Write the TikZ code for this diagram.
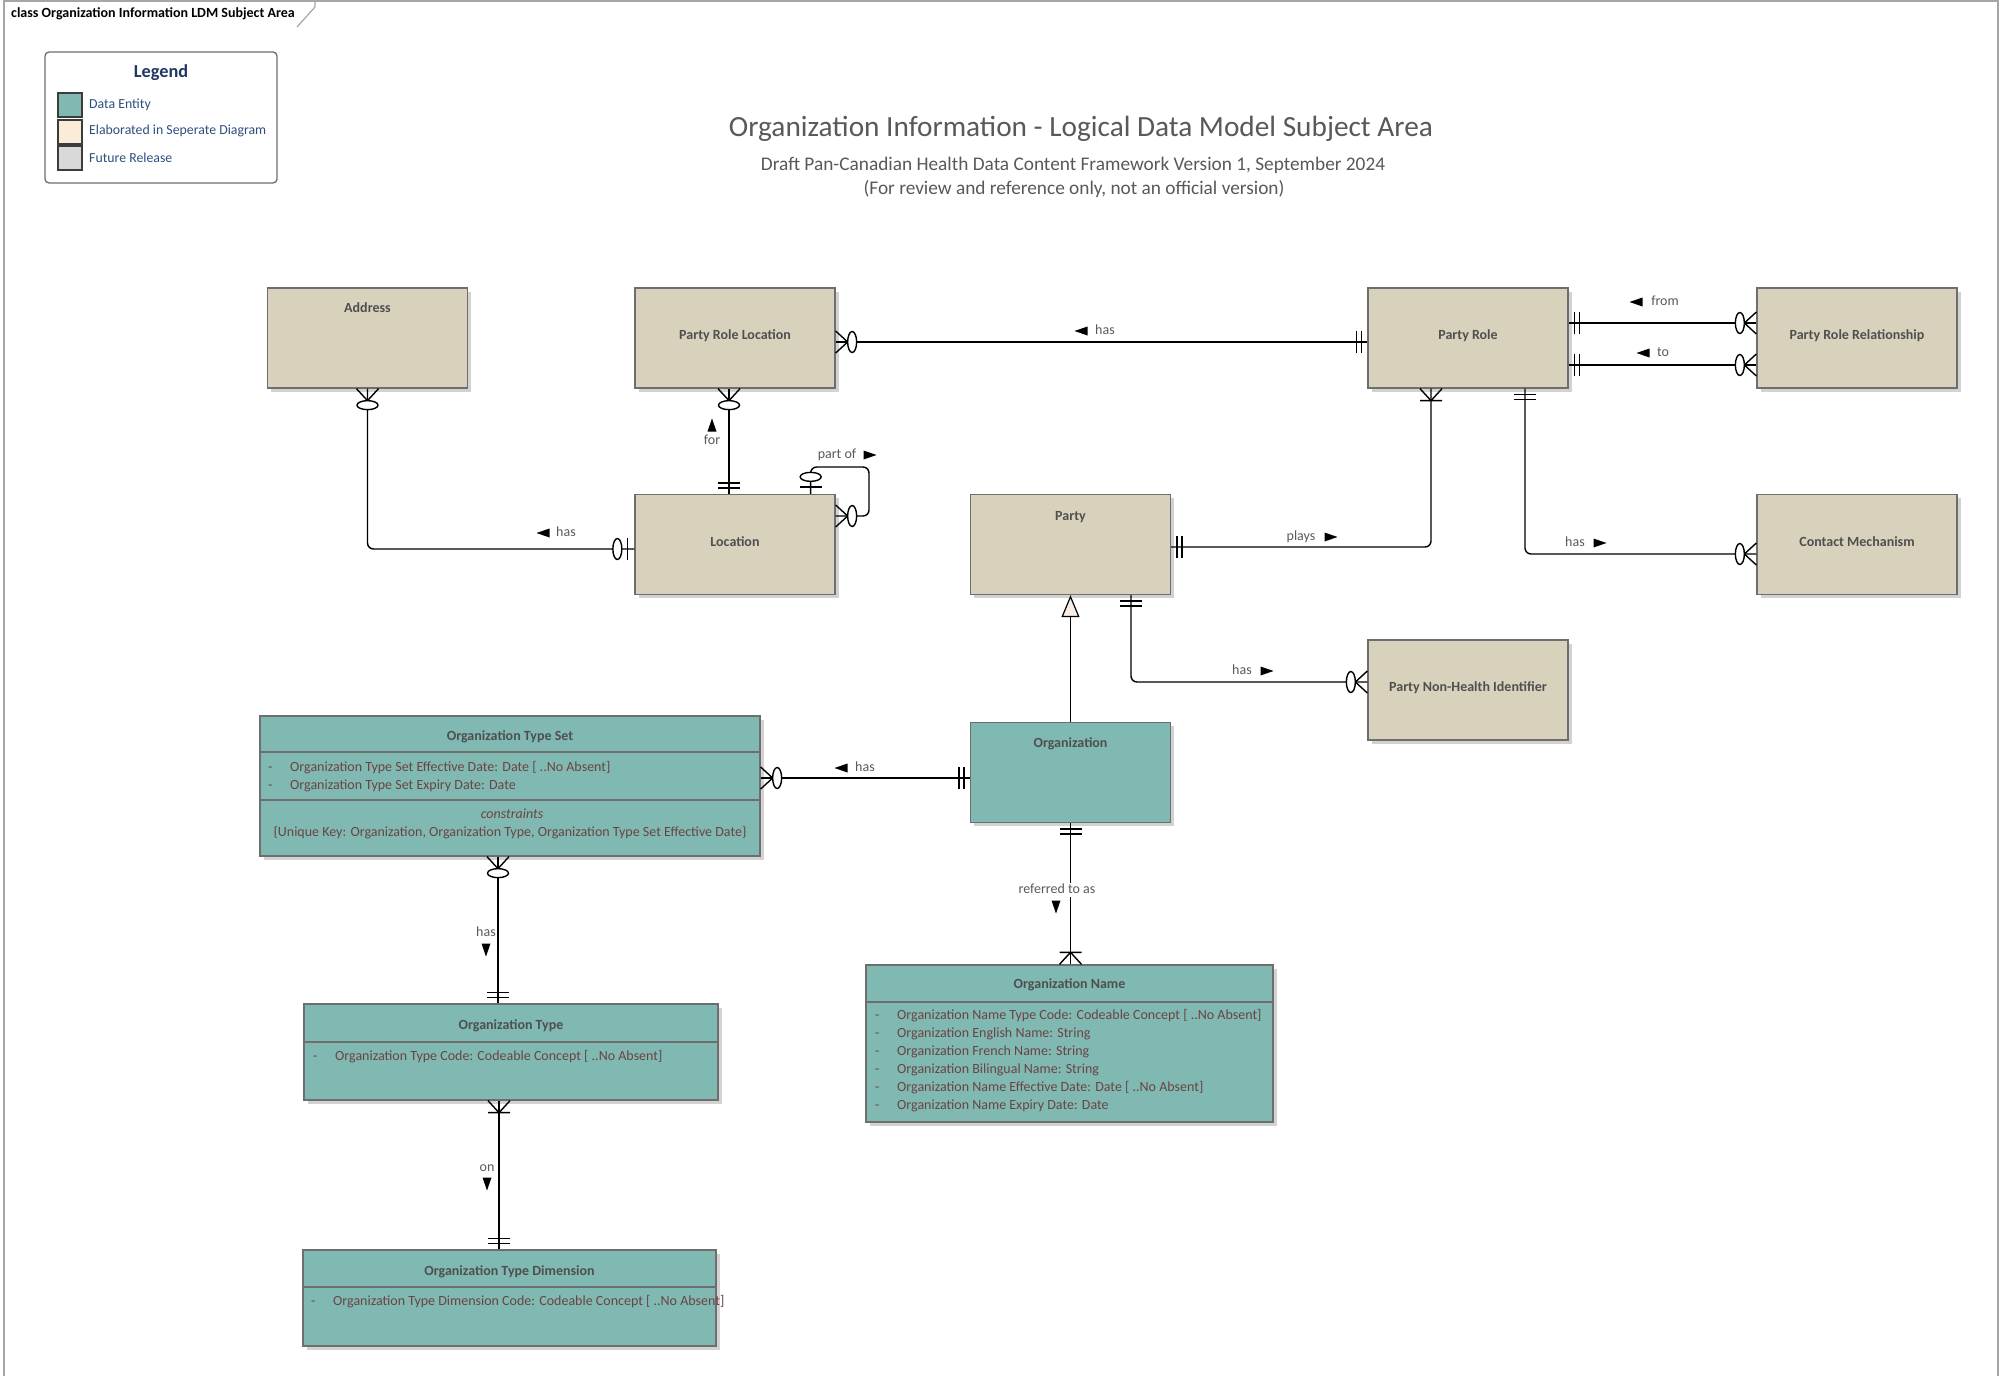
\documentclass[tikz,border=0pt]{standalone}
\usepackage{fontspec}
\setmainfont{Carlito}
\usetikzlibrary{arrows.meta,shadows,calc}

\definecolor{framegray}{HTML}{A6A6A6}
\definecolor{boxline}{HTML}{6E6E6E}
\definecolor{tanfill}{HTML}{D8D2BC}
\definecolor{tealfill}{HTML}{80B9B2}
\definecolor{peachfill}{HTML}{FBEBD9}
\definecolor{futurefill}{HTML}{D9D9D9}
\definecolor{titlegray}{HTML}{595959}
\definecolor{namegray}{HTML}{4F4F4F}
\definecolor{attrbrown}{HTML}{6B4343}
\definecolor{labelgray}{HTML}{5A5A5A}
\definecolor{legendblue}{HTML}{1F3864}
\definecolor{legendtext}{HTML}{2F4F80}
\definecolor{genfill}{HTML}{F7EEE8}
\definecolor{shadowgray}{HTML}{D2D2D2}
\definecolor{swatchline}{HTML}{3C3C3C}

\tikzset{
  entity/.style={draw=boxline, line width=1.3pt, inner sep=0pt,
    minimum width=200pt, minimum height=100pt,
    general shadow={fill=shadowgray, shadow xshift=3.5pt, shadow yshift=-3.5pt}},
  tanbox/.style={entity, fill=tanfill},
  tealbox/.style={entity, fill=tealfill},
  ename/.style={font=\fontsize{14}{16}\selectfont\bfseries, text=namegray,
    inner sep=0pt, text height=9.5pt, text depth=3pt},
  attr/.style={font=\fontsize{14}{16}\selectfont, text=attrbrown, anchor=west,
    inner sep=0pt, text height=9.5pt, text depth=3pt},
  rel/.style={font=\fontsize{14}{16}\selectfont, text=labelgray,
    inner sep=1pt, text height=9.5pt, text depth=3pt},
  legtext/.style={font=\fontsize{13.8}{16}\selectfont, text=legendtext, anchor=west, inner sep=0pt},
  conn/.style={draw=black, line width=1.4pt},
  compline/.style={draw=boxline, line width=1.3pt},
  pics/zeromany/.style={code={
    \draw[conn] (0,-11) -- (12,0) -- (0,11);
    \draw[conn, fill=white] (16.5,0) ellipse [x radius=4.5pt, y radius=10.5pt];}},
  pics/zeroone/.style={code={
    \draw[conn] (7,-11) -- (7,11);
    \draw[conn, fill=white] (17,0) ellipse [x radius=4.5pt, y radius=10.5pt];}},
  pics/onlyone/.style={code={
    \draw[conn] (6,-11) -- (6,11) (11,-11) -- (11,11);}},
  pics/onemany/.style={code={
    \draw[conn] (0,-11) -- (12,0) -- (0,11) (12,-11) -- (12,11);}},
  pics/dirtri/.style={code={
    \fill[black] (6.5,0) -- (-6.5,-4.5) -- (-6.5,4.5) -- cycle;}}
}

\begin{document}
\begin{tikzpicture}[x=1pt,y=-1pt]
\useasboundingbox (0,0) rectangle (2006,1376);
\fill[white] (0,0) rectangle (2006,1376);

% diagram frame and its name tab
\draw[framegray, line width=2pt] (4,1376) -- (4,1) -- (1998,1) -- (1998,1376);
\draw[framegray, line width=1.2pt] (315,1) -- (315,7) -- (297,27);
\node[font=\fontsize{14}{16}\selectfont\bfseries, anchor=west, inner sep=0pt] (tab) at (11,14)
  {class Organization Information LDM Subject Area};

% legend
\draw[draw=boxline, line width=1.3pt, rounded corners=4pt] (45,52) rectangle (277,183);
\node[font=\fontsize{18.3}{21}\selectfont\bfseries, text=legendblue] (legend) at (161,73) {Legend};
\draw[fill=tealfill, draw=swatchline, line width=1.5pt] (58,93) rectangle (82,117);
\draw[fill=peachfill, draw=swatchline, line width=1.5pt] (58,120) rectangle (82,144);
\draw[fill=futurefill, draw=swatchline, line width=1.5pt] (58,146) rectangle (82,170);
\node[legtext] (lg1) at (89,105) {Data Entity};
\node[legtext] (lg2) at (89,131) {Elaborated in Seperate Diagram};
\node[legtext] (lg3) at (89,158) {Future Release};

% titles
\node[font=\fontsize{29.3}{33}\selectfont, text=titlegray] (title) at (1081,129)
  {Organization Information - Logical Data Model Subject Area};
\node[font=\fontsize{19.3}{22}\selectfont, text=titlegray] (sub1) at (1073,165)
  {Draft Pan-Canadian Health Data Content Framework Version 1, September 2024};
\node[font=\fontsize{19.3}{22}\selectfont, text=titlegray] (sub2) at (1074,189)
  {(For review and reference only, not an official version)};

% entities elaborated elsewhere
\node[tanbox] (addr) at (367.5,338) {};
\node[ename] (addr-t) at (367.5,309) {Address};
\node[tanbox] (prl) at (735,338) {};
\node[ename] (prl-t) at (735,336) {Party Role Location};
\node[tanbox] (pr) at (1468,338) {};
\node[ename] (pr-t) at (1468,336) {Party Role};
\node[tanbox] (prr) at (1857,338) {};
\node[ename] (prr-t) at (1857,336) {Party Role Relationship};
\node[tanbox] (loc) at (735,544.5) {};
\node[ename] (loc-t) at (735,543) {Location};
\node[tanbox] (party) at (1070.5,544.5) {};
\node[ename] (party-t) at (1070.5,517) {Party};
\node[tanbox] (cm) at (1857,544.5) {};
\node[ename] (cm-t) at (1857,543) {Contact Mechanism};
\node[tanbox] (pnhi) at (1468,690) {};
\node[ename] (pnhi-t) at (1468,688) {Party Non-Health Identifier};

% data entities
\node[tealbox] (org) at (1070.5,772.5) {};
\node[ename] (org-t) at (1070.5,744) {Organization};

\node[tealbox, minimum width=500pt, minimum height=140pt] (ots) at (510,786) {};
\node[ename] (ots-t) at (510,737) {Organization Type Set};
\draw[compline] (ots.west |- 0,752) -- (ots.east |- 0,752);
\node[attr] (ots-d1) at (268,768) {-};
\node[attr] (ots-a1) at (290,768) {Organization Type Set Effective Date: Date [ ..No Absent]};
\node[attr] (ots-d2) at (268,786) {-};
\node[attr] (ots-a2) at (290,786) {Organization Type Set Expiry Date: Date};
\draw[compline] (ots.west |- 0,800) -- (ots.east |- 0,800);
\node[attr, anchor=center, font=\fontsize{14}{16}\selectfont\itshape] (ots-c) at (512,815) {constraints};
\node[attr, anchor=center] (ots-k) at (510,833)
  {\{Unique Key: Organization, Organization Type, Organization Type Set Effective Date\}};

\node[tealbox, minimum width=407pt, minimum height=157pt] (oname) at (1069.5,1043.5) {};
\node[ename] (oname-t) at (1069.5,985) {Organization Name};
\draw[compline] (oname.west |- 0,1002) -- (oname.east |- 0,1002);
\foreach \i/\txt in {0/{Organization Name Type Code: Codeable Concept [ ..No Absent]},
                     1/{Organization English Name: String},
                     2/{Organization French Name: String},
                     3/{Organization Bilingual Name: String},
                     4/{Organization Name Effective Date: Date [ ..No Absent]},
                     5/{Organization Name Expiry Date: Date}} {
  \node[attr] (oname-d\i) at (875,1016+18*\i) {-};
  \node[attr] (oname-a\i) at (897,1016+18*\i) {\txt};
}

\node[tealbox, minimum width=414pt, minimum height=96pt] (otype) at (511,1052) {};
\node[ename] (otype-t) at (511,1026) {Organization Type};
\draw[compline] (otype.west |- 0,1042) -- (otype.east |- 0,1042);
\node[attr] (otype-d) at (313,1057) {-};
\node[attr] (otype-a) at (335,1057) {Organization Type Code: Codeable Concept [ ..No Absent]};

\node[tealbox, minimum width=413pt, minimum height=96pt] (otd) at (509.5,1298) {};
\node[ename] (otd-t) at (509.5,1272) {Organization Type Dimension};
\draw[compline] (otd.west |- 0,1287) -- (otd.east |- 0,1287);
\node[attr] (otd-d) at (311,1302) {-};
\node[attr] (otd-a) at (333,1302) {Organization Type Dimension Code: Codeable Concept [ ..No Absent]};

% ---- relationships ----
% Address has Location
\draw[conn, rounded corners=6pt] (addr.south) |- ([yshift=-4.5pt]loc.west);
\pic[rotate=-90] at (addr.south) {zeromany};
\pic[rotate=180] at ([yshift=-4.5pt]loc.west) {zeroone};
\pic[rotate=180] at (543,533) {dirtri};
\node[rel] (r-addr) at (566,533) {has};

% Party Role Location for Location
\draw[conn] ([xshift=-6pt]prl.south) -- ([xshift=-6pt]loc.north);
\pic[rotate=-90] at ([xshift=-6pt]prl.south) {zeromany};
\pic[rotate=90] at ([xshift=-6pt]loc.north) {onlyone};
\pic[rotate=90] at (712,425) {dirtri};
\node[rel] (r-for) at (712,441) {for};

% Location part of Location
\coordinate (loopc) at (869,467);
\draw[conn, rounded corners=6pt] ([xshift=-25pt]loc.north east) |- (loopc) |- ([yshift=28.5pt]loc.east);
\pic[rotate=90] at ([xshift=-25pt]loc.north east) {zeroone};
\pic at ([yshift=28.5pt]loc.east) {zeromany};
\node[rel] (r-part) at (837,455) {part of};
\pic at (870,455) {dirtri};

% Party Role has Party Role Location
\draw[conn] ([yshift=-4pt]prl.east) -- ([yshift=-4pt]pr.west);
\pic at ([yshift=-4pt]prl.east) {zeromany};
\pic[rotate=180] at ([yshift=-4pt]pr.west) {onlyone};
\pic[rotate=180] at (1081,331) {dirtri};
\node[rel] (r-prl) at (1105,331) {has};

% Party Role Relationship from / to Party Role
\draw[conn] ([yshift=15pt]pr.east) -- ([yshift=15pt]prr.west);
\pic at ([yshift=15pt]pr.east) {onlyone};
\pic[rotate=180] at ([yshift=15pt]prr.west) {zeromany};
\pic[rotate=180] at (1636,302) {dirtri};
\node[rel] (r-from) at (1665,302) {from};
\draw[conn] ([yshift=-27pt]pr.east) -- ([yshift=-27pt]prr.west);
\pic at ([yshift=-27pt]pr.east) {onlyone};
\pic[rotate=180] at ([yshift=-27pt]prr.west) {zeromany};
\pic[rotate=180] at (1643,353) {dirtri};
\node[rel] (r-to) at (1663,353) {to};

% Party plays Party Role
\draw[conn, rounded corners=6pt] ([yshift=-2.5pt]party.east) -| ([xshift=-37pt]pr.south);
\pic at ([yshift=-2.5pt]party.east) {onlyone};
\pic[rotate=-90] at ([xshift=-37pt]pr.south) {onemany};
\node[rel] (r-plays) at (1301,537) {plays};
\pic at (1331,537) {dirtri};

% Party Role has Contact Mechanism
\draw[conn, rounded corners=6pt] ([xshift=57pt]pr.south) |- ([yshift=-9.5pt]cm.west);
\pic[rotate=-90] at ([xshift=57pt]pr.south) {onlyone};
\pic[rotate=180] at ([yshift=-9.5pt]cm.west) {zeromany};
\node[rel] (r-cm) at (1575,543) {has};
\pic at (1600,543) {dirtri};

% Party has Party Non-Health Identifier
\draw[conn, rounded corners=6pt] ([xshift=60.5pt]party.south) |- ([yshift=8pt]pnhi.west);
\pic[rotate=-90] at ([xshift=60.5pt]party.south) {onlyone};
\pic[rotate=180] at ([yshift=8pt]pnhi.west) {zeromany};
\node[rel] (r-pnhi) at (1242,671) {has};
\pic at (1267,671) {dirtri};

% Organization is a Party
\draw[conn, -{Triangle[length=22pt,width=18pt,fill=genfill,line width=1.2pt]}] (org.north) -- (party.south);

% Organization has Organization Type Set
\draw[conn] ([yshift=8pt]ots.east) -- ([yshift=-5.5pt]org.west);
\pic at ([yshift=8pt]ots.east) {zeromany};
\pic[rotate=180] at ([yshift=-5.5pt]org.west) {onlyone};
\pic[rotate=180] at (841,768) {dirtri};
\node[rel] (r-ots) at (865,768) {has};

% Organization referred to as Organization Name
\draw[conn] (org.south) -- (org.south |- oname.north);
\pic[rotate=-90] at (org.south) {onlyone};
\pic[rotate=90] at (org.south |- oname.north) {onemany};
\node[rel, fill=white] (r-name) at (1057,890) {referred to as};
\pic[rotate=-90] at (1056,907) {dirtri};

% Organization Type Set has Organization Type
\draw[conn] ([xshift=-12pt]ots.south) -- ([xshift=-12pt]ots.south |- otype.north);
\pic[rotate=-90] at ([xshift=-12pt]ots.south) {zeromany};
\pic[rotate=90] at ([xshift=-12pt]ots.south |- otype.north) {onlyone};
\node[rel] (r-otype) at (486,933) {has};
\pic[rotate=-90] at (486,950) {dirtri};

% Organization Type on Organization Type Dimension
\draw[conn] ([xshift=-12pt]otype.south) -- ([xshift=-12pt]otype.south |- otd.north);
\pic[rotate=-90] at ([xshift=-12pt]otype.south) {onemany};
\pic[rotate=90] at ([xshift=-12pt]otype.south |- otd.north) {onlyone};
\node[rel] (r-otd) at (487,1168) {on};
\pic[rotate=-90] at (487,1184) {dirtri};
\end{tikzpicture}
\end{document}
